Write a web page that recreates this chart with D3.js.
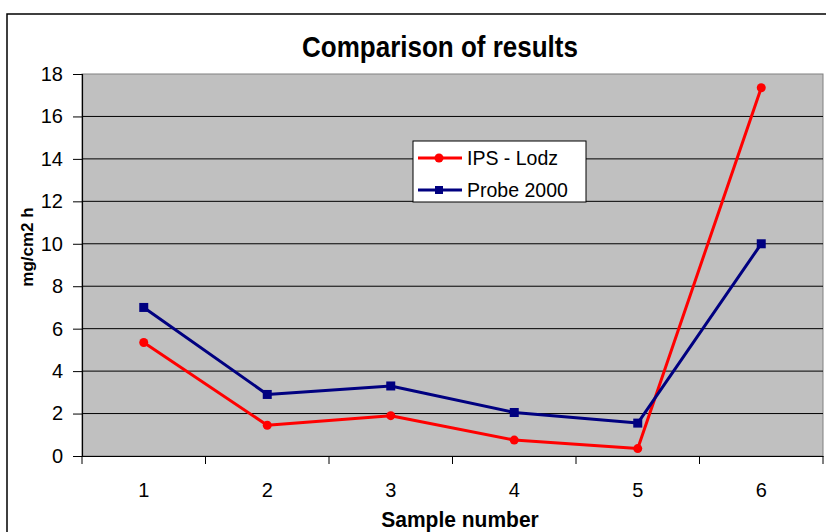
<!DOCTYPE html>
<html>
<head>
<meta charset="utf-8">
<script src="https://cdn.jsdelivr.net/npm/d3@7"></script>
<style>
  body { margin: 0; background: #fff; }
  text { font-family: "Liberation Sans", Arial, sans-serif; }
</style>
</head>
<body>
<div id="chart"></div>
<script>
var width = 826, height = 532;

var samples = ["1", "2", "3", "4", "5", "6"];
var ipsLodz = [5.35, 1.45, 1.9, 0.75, 0.35, 17.35];
var probe2000 = [7.0, 2.9, 3.3, 2.05, 1.55, 10.0];
var yTicks = [0, 2, 4, 6, 8, 10, 12, 14, 16, 18];

var series = [
    {name: "IPS  - Lodz", values: ipsLodz, color: "#ff0000", marker: "circle"},
    {name: "Probe 2000", values: probe2000, color: "#000080", marker: "square"}
];

var plot = {left: 82, right: 823, top: 74, bottom: 456};

var svg = d3.select("#chart").append("svg")
    .attr("width", width)
    .attr("height", height);

// outer chart frame
svg.append("rect")
    .attr("x", 7).attr("y", 14)
    .attr("width", 830).attr("height", 530)
    .attr("fill", "#fff")
    .attr("stroke", "#000")
    .attr("stroke-width", 1.5);

var x = d3.scaleBand()
    .domain(samples)
    .range([plot.left, plot.right]);

var y = d3.scaleLinear()
    .domain([0, 18])
    .range([plot.bottom, plot.top]);

// plot background
svg.append("rect")
    .attr("x", plot.left).attr("y", plot.top)
    .attr("width", plot.right - plot.left)
    .attr("height", plot.bottom - plot.top)
    .attr("fill", "#c0c0c0")
    .attr("stroke", "#808080")
    .attr("stroke-width", 1);

// gridlines
svg.selectAll(".grid")
    .data(yTicks.filter(function(d) { return d > 0 && d < 18; }))
    .enter().append("line")
    .attr("x1", plot.left).attr("x2", plot.right)
    .attr("y1", function(d) { return y(d); })
    .attr("y2", function(d) { return y(d); })
    .attr("stroke", "#000")
    .attr("stroke-width", 1);

// y axis
var yAxis = svg.append("g")
    .attr("transform", "translate(" + plot.left + ",0)")
    .call(d3.axisLeft(y).tickValues(yTicks).tickSize(9).tickPadding(10));

// x axis
var xTickPos = samples.map(function(d) { return x(d); }).concat([plot.right]);
var xAxis = svg.append("g")
    .attr("transform", "translate(0," + plot.bottom + ")")
    .call(d3.axisBottom(x).tickSize(0).tickPadding(27));
xAxis.selectAll(".tk")
    .data(xTickPos)
    .enter().append("line")
    .attr("class", "tk")
    .attr("x1", function(d) { return d; })
    .attr("x2", function(d) { return d; })
    .attr("y1", 0).attr("y2", 8)
    .attr("stroke", "#000");

[yAxis, xAxis].forEach(function(g) {
    g.select(".domain").attr("stroke", "#000").attr("stroke-width", 1.2);
    g.selectAll(".tick line").attr("stroke", "#000");
    g.selectAll(".tick text")
        .attr("font-size", 20)
        .attr("font-family", "Liberation Sans, Arial, sans-serif")
        .attr("fill", "#000");
});

// series
var line = d3.line()
    .x(function(d, i) { return x(samples[i]) + x.bandwidth() / 2; })
    .y(function(d) { return y(d); });

series.forEach(function(s) {
    svg.append("path")
        .datum(s.values)
        .attr("d", line)
        .attr("fill", "none")
        .attr("stroke", s.color)
        .attr("stroke-width", 3)
        .attr("stroke-linejoin", "round");

    var pts = svg.selectAll(".pt-" + s.marker)
        .data(s.values)
        .enter();
    if (s.marker === "circle") {
        pts.append("circle")
            .attr("cx", function(d, i) { return x(samples[i]) + x.bandwidth() / 2; })
            .attr("cy", function(d) { return y(d); })
            .attr("r", 4.5)
            .attr("fill", s.color);
    } else {
        pts.append("rect")
            .attr("x", function(d, i) { return x(samples[i]) + x.bandwidth() / 2 - 4.5; })
            .attr("y", function(d) { return y(d) - 4.5; })
            .attr("width", 9).attr("height", 9)
            .attr("fill", s.color);
    }
});

// title and axis titles
svg.append("text")
    .attr("transform", "translate(440,57) scale(1,1.1)")
    .attr("text-anchor", "middle")
    .attr("font-size", 26).attr("font-weight", "bold")
    .text("Comparison of results");

svg.append("text")
    .attr("transform", "translate(460,527) scale(1,1.05)")
    .attr("text-anchor", "middle")
    .attr("font-size", 21).attr("font-weight", "bold")
    .text("Sample number");

svg.append("text")
    .attr("transform", "translate(33,247) rotate(-90)")
    .attr("text-anchor", "middle")
    .attr("font-size", 17).attr("font-weight", "bold")
    .text("mg/cm2 h");

// legend
var legend = svg.append("g").attr("transform", "translate(413,141)");
legend.append("rect")
    .attr("width", 173).attr("height", 61)
    .attr("fill", "#fff")
    .attr("stroke", "#000")
    .attr("stroke-width", 1);

series.forEach(function(s, i) {
    var ly = 17 + i * 32;
    legend.append("line")
        .attr("x1", 5).attr("x2", 49)
        .attr("y1", ly).attr("y2", ly)
        .attr("stroke", s.color)
        .attr("stroke-width", 3);
    if (s.marker === "circle") {
        legend.append("circle").attr("cx", 26).attr("cy", ly).attr("r", 4.5).attr("fill", s.color);
    } else {
        legend.append("rect").attr("x", 22).attr("y", ly - 4).attr("width", 8).attr("height", 8).attr("fill", s.color);
    }
    legend.append("text")
        .attr("x", 54).attr("y", ly + 7)
        .attr("font-size", 19.5)
        .text(s.name);
});
</script>
</body>
</html>
